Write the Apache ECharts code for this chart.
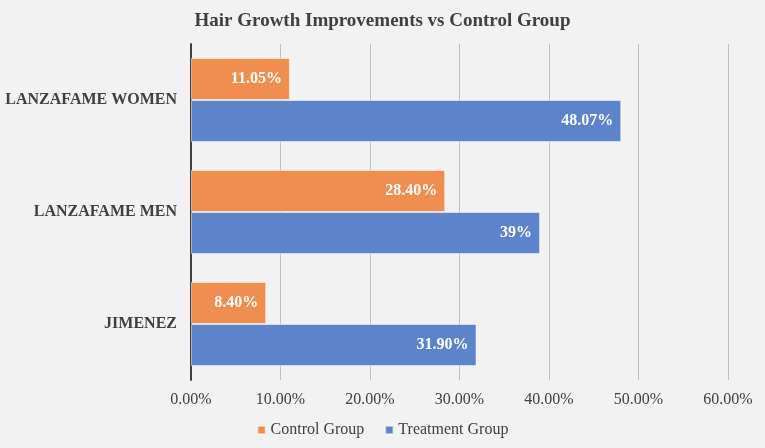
<!DOCTYPE html>
<html>
<head>
<meta charset="utf-8">
<script src="https://cdn.jsdelivr.net/npm/echarts@6/dist/echarts.min.js"></script>
<style>
html,body{margin:0;padding:0;background:#f2f2f2;}
#chart{width:765px;height:448px;}
</style>
</head>
<body>
<div id="chart"></div>
<script>
var categories = ['JIMENEZ', 'LANZAFAME MEN', 'LANZAFAME WOMEN'];
var controlValues = [8.40, 28.40, 11.05];
var treatmentValues = [31.90, 39, 48.07];
var controlLabels = ['8.40%', '28.40%', '11.05%'];
var treatmentLabels = ['31.90%', '39%', '48.07%'];
var xTicks = [0, 10, 20, 30, 40, 50, 60];

var serif = '"Liberation Serif", "Times New Roman", serif';
var chart = echarts.init(document.getElementById('chart'));
var labelStyle = function (texts) {
  return {
    show: true,
    position: 'insideRight',
    distance: 8,
    color: '#ffffff',
    fontFamily: serif,
    fontWeight: 'bold',
    fontSize: 16,
    formatter: function (p) { return texts[p.dataIndex]; }
  };
};
chart.setOption({
  backgroundColor: '#f2f2f2',
  animation: false,
  title: {
    text: 'Hair Growth Improvements vs Control Group',
    left: 'center',
    top: 7,
    textStyle: { fontFamily: serif, fontWeight: 'bold', fontSize: 19, color: '#404040' }
  },
  legend: {
    data: ['Control Group', 'Treatment Group'],
    bottom: 5,
    left: 'center',
    icon: 'rect',
    itemWidth: 8,
    itemHeight: 8,
    itemGap: 20,
    textStyle: { fontFamily: serif, fontSize: 16, color: '#404040' }
  },
  grid: { left: 191, right: 37, top: 44, bottom: 68, containLabel: false },
  xAxis: {
    type: 'value',
    min: xTicks[0],
    max: xTicks[xTicks.length - 1],
    interval: 10,
    axisLine: { show: false },
    axisTick: { show: false },
    splitLine: { show: true, lineStyle: { color: '#c0c0c0', width: 1 } },
    axisLabel: {
      margin: 12,
      fontFamily: serif, fontSize: 16, color: '#404040',
      formatter: function (v) { return v.toFixed(2) + '%'; }
    }
  },
  yAxis: {
    type: 'category',
    data: categories,
    axisLine: { show: true, lineStyle: { color: '#404040', width: 2 } },
    axisTick: { show: false },
    axisLabel: { margin: 14, fontFamily: serif, fontWeight: 'bold', fontSize: 16, color: '#404040' }
  },
  series: [
    {
      name: 'Control Group',
      type: 'bar',
      data: controlValues,
      barGap: '0%',
      barCategoryGap: '25%',
      itemStyle: { color: '#ef8e50', borderColor: 'rgba(255,255,255,0.5)', borderWidth: 1 },
      label: labelStyle(controlLabels)
    },
    {
      name: 'Treatment Group',
      type: 'bar',
      data: treatmentValues,
      barGap: '0%',
      barCategoryGap: '25%',
      itemStyle: { color: '#5d83cb', borderColor: 'rgba(255,255,255,0.5)', borderWidth: 1 },
      label: labelStyle(treatmentLabels)
    }
  ]
});
</script>
</body>
</html>
